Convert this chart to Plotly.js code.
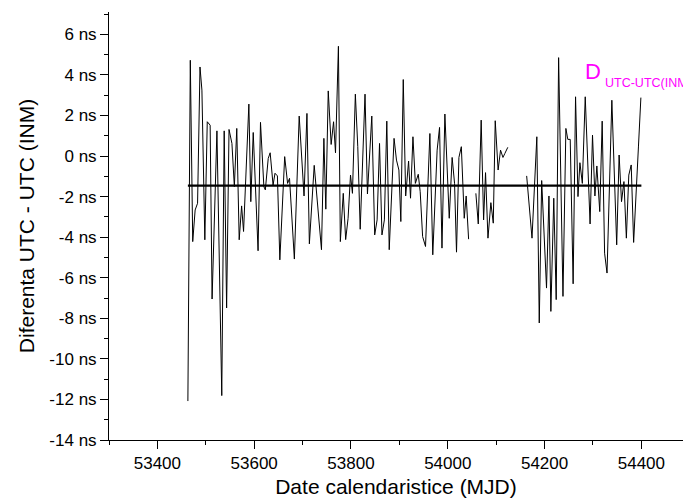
<!DOCTYPE html>
<html>
<head>
<meta charset="utf-8">
<script src="https://cdn.plot.ly/plotly-3.0.1.min.js"></script>
<style>html,body{margin:0;padding:0;background:#fff;}#chart{width:683px;height:504px;}</style>
</head>
<body>
<div id="chart"></div>
<script>
// MJD dates of the samples (null rows mark gaps in the series)
const mjd = [53463,53468,53473,53478,53483,53488,53492,53498,53503,53509,53513,53523,53533,53538,53543,53548,53554,53559,53564,53569,53574,53578,53589,53593,53598,53608,53613,
53620,53623,53629,53633,53639,53643,53648,53653,53663,53669,53673,53683,53693,53703,53709,53714,53724,53739,53744,53748,53753,53759,53764,53768,53774,53778,53784,53789,
53794,53799,53803,53809,53814,53819,53829,53834,53843,53849,53854,53859,53864,53869,53874,53879,53889,53894,53899,53903,53908,53913,53919,53923,53928,53933,53939,53943,53948,53954,
53963,53969,53978,53983,53988,53994,54003,54009,54014,54018,54023,54028,54034,54038,54043,
54050,
54058,54063,54069,54074,54078,54083,54089,54094,54098,54104,54109,54114,54118,54124,
54145,
54163,54174,54184,54189,54194,54204,54209,54213,54219,54224,54229,54238,54244,54248,54253,54259,54264,54269,54273,54278,54284,54289,54294,54299,
54304,54308,54314,54319,54324,54329,54339,54349,54354,54359,54364,54369,54374,54379,54384,54394,54399];

// UTC - UTC(INM) in ns
const diffNs = [-12.08,4.72,-4.22,-2.66,-2.33,4.39,3.25,-4.13,1.69,1.52,-7.05,1.24,-11.81,1.24,-7.49,1.31,0.62,-1.51,1.36,-4.13,-2.46,-3.72,2.56,-2.25,1.16,-4.67,1.66,
-1.51,-1.67,-0.12,0.16,-1.43,-0.85,-0.98,-5.12,-0.03,-1.35,-1.10,-5.08,1.97,-1.97,2.10,-4.33,-0.46,-4.62,0.87,-2.62,3.21,0.57,1.69,0.16,5.41,-4.22,-1.84,-4.12,
-3.07,-0.94,-1.84,3.05,0.46,-3.61,3.05,-1.87,1.97,-3.89,-3.15,0.62,-3.89,-3.15,1.72,-4.62,0.87,-0.20,-0.69,-3.23,3.77,-1.97,-0.25,-2.08,0.95,-1.35,-0.90,-1.76,-3.97,-4.46,
1.11,-4.87,0.29,1.41,-4.54,2.07,-3.07,-0.07,-1.35,-4.74,-0.07,0.46,-3.07,-1.97,-4.10,
null,
-1.84,-3.35,1.77,-3.15,-0.82,-4.05,-2.30,-3.31,1.74,-0.69,0.29,-0.07,0.13,0.43,
null,
-0.98,-4.05,0.95,-8.23,-1.21,-6.51,-1.97,-7.66,-2.08,-7.08,4.85,-6.92,1.36,0.82,0.82,-6.30,2.92,-2.00,-0.33,-1.35,2.92,-0.20,-3.35,1.03,
-1.97,-0.49,-2.74,1.72,-4.79,-5.77,2.75,-4.38,0.05,-2.25,-1.26,-4.05,-0.94,-0.44,-4.26,0.49,2.88];

// mean level line
const meanMjd = [53463, 54400];
const meanNs = [-1.46, -1.46];

// tick labels
const xTickVals = [53400, 53600, 53800, 54000, 54200, 54400];
const xTickText = ['53400', '53600', '53800', '54000', '54200', '54400'];
const yTickVals = [-14, -12, -10, -8, -6, -4, -2, 0, 2, 4, 6];
const yTickText = ['-14 ns', '-12 ns', '-10 ns', '-8 ns', '-6 ns', '-4 ns', '-2 ns', '0 ns', '2 ns', '4 ns', '6 ns'];

const FONT = 'Liberation Sans, Arial, Helvetica, sans-serif';

const traces = [
  {x: mjd, y: diffNs, type: 'scatter', mode: 'lines', connectgaps: false,
   line: {color: '#000', width: 1}, hoverinfo: 'skip'},
  {x: meanMjd, y: meanNs, type: 'scatter', mode: 'lines',
   line: {color: '#000', width: 2.2}, hoverinfo: 'skip'}
];

const layout = {
  width: 683, height: 504,
  margin: {l: 109, r: 0, t: 12, b: 64, pad: 0},
  paper_bgcolor: '#fff', plot_bgcolor: '#fff',
  showlegend: false,
  font: {family: FONT, color: '#000', size: 17},
  xaxis: {
    range: [53300, 54486],
    tickmode: 'array', tickvals: xTickVals, ticktext: xTickText,
    ticks: 'outside', ticklen: 8, tickwidth: 1, tickcolor: '#000',
    minor: {tickmode: 'linear', tick0: 53300, dtick: 100, ticks: 'outside', ticklen: 4, tickcolor: '#000', tickwidth: 1},
    showline: true, linecolor: '#000', linewidth: 1,
    showgrid: false, zeroline: false,
    tickfont: {family: FONT, size: 17, color: '#000'},
    title: {text: 'Date calendaristice (MJD)', font: {family: FONT, size: 21, color: '#000'}, standoff: 6}
  },
  yaxis: {
    range: [-14, 7.1],
    tickmode: 'array', tickvals: yTickVals, ticktext: yTickText,
    ticks: 'outside', ticklen: 8, tickwidth: 1, tickcolor: '#000',
    minor: {tickmode: 'linear', tick0: 0, dtick: 1, ticks: 'outside', ticklen: 4, tickcolor: '#000', tickwidth: 1},
    showline: true, linecolor: '#000', linewidth: 1,
    showgrid: false, zeroline: false,
    tickfont: {family: FONT, size: 17, color: '#000'},
    title: {text: 'Diferenta UTC - UTC (INM)', font: {family: FONT, size: 21, color: '#000'}, standoff: 8}
  },
  annotations: [
    {xref: 'paper', yref: 'paper', x: 0.826, y: 0.862, xanchor: 'left', yanchor: 'middle',
     text: 'D', showarrow: false, font: {family: FONT, size: 22, color: '#FF00FF'}},
    {xref: 'paper', yref: 'paper', x: 0.861, y: 0.835, xanchor: 'left', yanchor: 'middle',
     text: 'UTC-UTC(INM)', showarrow: false, font: {family: FONT, size: 12.5, color: '#FF00FF'}}
  ]
};

Plotly.newPlot('chart', traces, layout, {staticPlot: true, displayModeBar: false});
</script>
</body>
</html>
